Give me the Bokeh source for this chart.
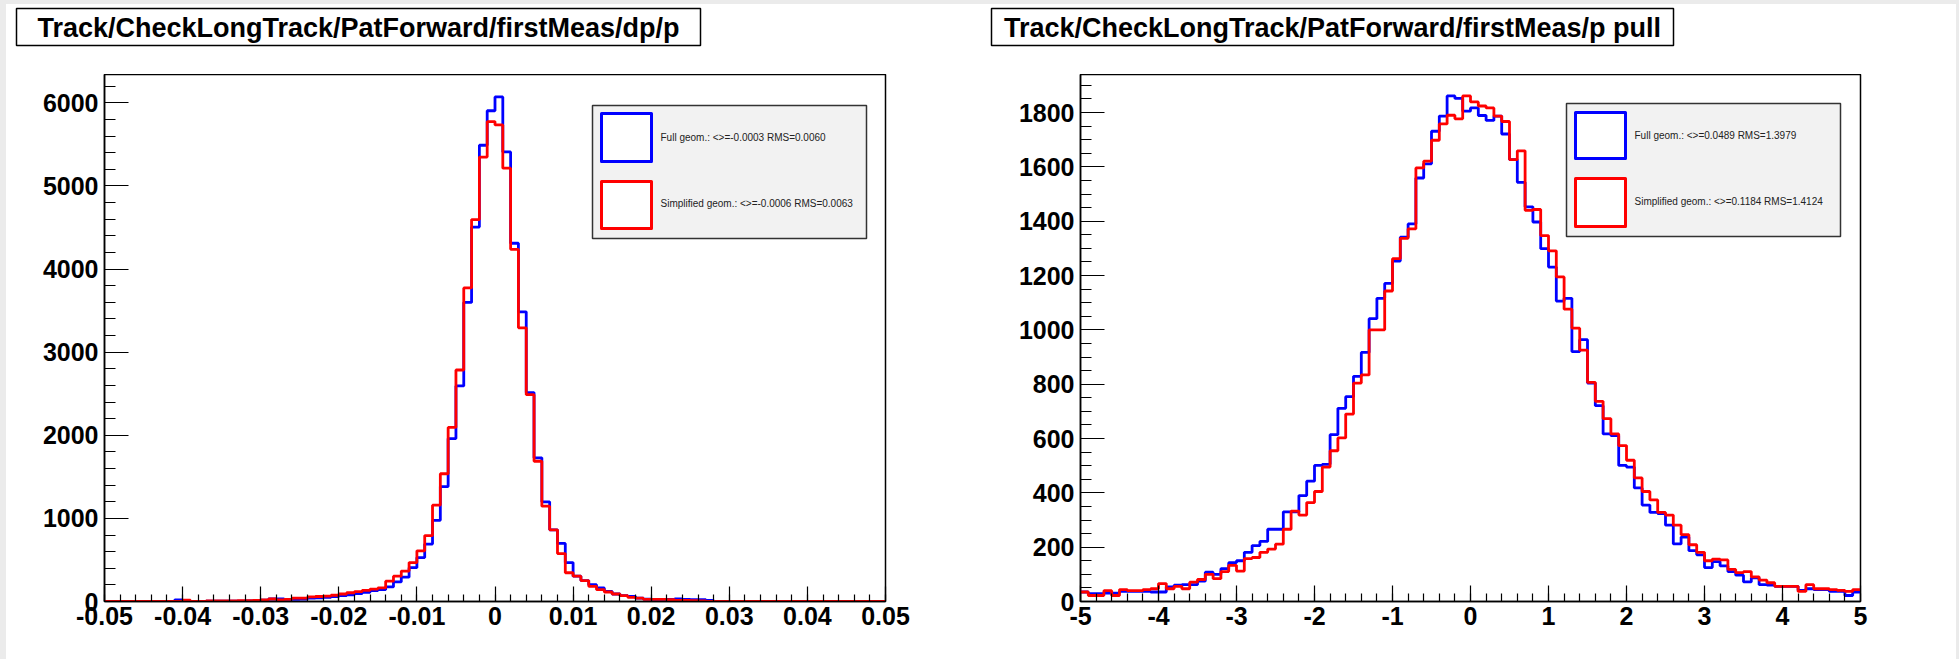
from bokeh.plotting import figure
from bokeh.layouts import row, column
from bokeh.models import Range1d, FixedTicker, Label, Spacer
from bokeh.core.properties import value
from bokeh.embed import file_html
from bokeh.resources import INLINE

# ---------------- data ----------------
TITLES = ["Track/CheckLongTrack/PatForward/firstMeas/dp/p",
          "Track/CheckLongTrack/PatForward/firstMeas/p pull"]

DP_RANGE = (-0.05, 0.05)
DP_NBINS = 100
DP_FULL = [0, 0, 0, 0, 0, 0, 0, 0, 0, 20, 5, 0, 0, 5, 5, 5, 5, 5, 8, 10,
           15, 30, 30, 25, 25, 30, 40, 45, 50, 60, 70, 80, 95, 110, 130,
           142, 175, 236, 293, 407, 529, 691, 976, 1382, 1960, 2594, 3598, 4505, 5489, 5904,
           6070, 5408, 4310, 3485, 2513, 1728, 1199, 862, 699, 468, 305, 252, 203, 163, 122,
           90, 70, 60, 40, 28, 25, 25, 25, 30, 25, 22, 22, 12,
           0, 0, 0, 0, 0, 0, 0, 0, 0, 0, 0, 0, 0, 0, 0, 0, 0, 0, 0, 0, 0, 0]
DP_SIMP = [0, 0, 0, 0, 0, 0, 0, 0, 0, 0, 15, 0, 0, 8, 8, 8, 8, 10, 10, 12,
           20, 30, 20, 25, 40, 40, 55, 60, 65, 75, 90, 105, 120, 135, 150,
           163, 244, 305, 366, 468, 610, 793, 1159, 1537, 2094, 2785, 3773, 4595, 5347, 5774,
           5733, 5213, 4237, 3293, 2488, 1687, 1147, 862, 577, 346, 305, 252, 183, 142, 114,
           90, 70, 50, 40, 25, 25, 25, 22, 12, 12, 10, 8,
           0, 0, 0, 0, 0, 0, 0, 0, 0, 0, 0, 0, 0, 0, 0, 0, 0, 0, 0, 0, 0, 0, 0]
DP_XTICKS = [-0.05, -0.04, -0.03, -0.02, -0.01, 0.0, 0.01, 0.02, 0.03, 0.04, 0.05]
DP_XLABELS = ["-0.05", "-0.04", "-0.03", "-0.02", "-0.01", "0", "0.01", "0.02", "0.03", "0.04", "0.05"]
DP_YTICKS = [0, 1000, 2000, 3000, 4000, 5000, 6000]
DP_YLABELS = ["0", "1000", "2000", "3000", "4000", "5000", "6000"]
DP_LEGEND = ["Full geom.: <>=-0.0003 RMS=0.0060", "Simplified geom.: <>=-0.0006 RMS=0.0063"]

PULL_RANGE = (-5.0, 5.0)
PULL_NBINS = 100
PULL_FULL = [35, 29, 29, 31, 31, 37, 37, 37, 37, 35, 35, 54, 60, 62, 62, 75, 108, 100, 121, 143,
             150, 181, 206, 221, 266, 266, 330, 330, 390, 443, 501, 505, 614, 711, 754, 829, 917, 1041, 1116, 1171,
             1253, 1341, 1390, 1559, 1611, 1731, 1787, 1861, 1852, 1805,
             1817, 1789, 1771, 1787, 1721, 1627, 1543, 1453, 1397, 1299, 1231, 1106, 1116, 920, 964, 804, 721, 617, 611, 501,
             495, 418, 355, 328, 324, 281, 212, 237, 187, 172, 125, 147, 131, 110, 97, 72, 87, 62, 60, 56,
             56, 56, 41, 47, 44, 44, 37, 37, 22, 35]
PULL_SIMP = [35, 22, 22, 40, 22, 44, 40, 40, 44, 47, 66, 47, 56, 47, 71, 81, 100, 84, 110, 133,
             112, 158, 162, 181, 193, 211, 266, 333, 318, 364, 405, 495, 555, 602, 690, 804, 834, 1000, 1000, 1143,
             1262, 1337, 1372, 1596, 1621, 1698, 1758, 1790, 1777, 1861,
             1839, 1824, 1817, 1787, 1767, 1627, 1659, 1440, 1443, 1347, 1291, 1195, 1076, 1006, 925, 807, 737, 673, 617, 574,
             520, 455, 405, 374, 328, 318, 281, 246, 209, 181, 150, 156, 153, 118, 106, 110, 91, 79, 69, 56,
             56, 56, 37, 62, 47, 47, 44, 41, 37, 44]
PULL_XTICKS = [-5, -4, -3, -2, -1, 0, 1, 2, 3, 4, 5]
PULL_XLABELS = ["-5", "-4", "-3", "-2", "-1", "0", "1", "2", "3", "4", "5"]
PULL_YTICKS = [0, 200, 400, 600, 800, 1000, 1200, 1400, 1600, 1800]
PULL_YLABELS = ["0", "200", "400", "600", "800", "1000", "1200", "1400", "1600", "1800"]
PULL_LEGEND = ["Full geom.: <>=0.0489 RMS=1.3979", "Simplified geom.: <>=0.1184 RMS=1.4124"]

# ---------------- layout constants (pixels) ----------------
FONT = "Liberation Sans"
PAGE_TOP = 4
PAGE_LEFT = 6
TITLE_H = 70          # height of the title strip above the plots
FRAME_H = 527
BOTTOM_B = 58
TOTAL_W = 1950


class Panel:
    def __init__(self, page_x0, left_b, frame_w, right_b, xr, ymax):
        self.page_x0 = page_x0
        self.left_b = left_b
        self.frame_w = frame_w
        self.right_b = right_b
        self.width = left_b + frame_w + right_b
        self.xr = xr
        self.ymax = ymax
        self.fx0 = page_x0 + left_b
        self.fy0 = PAGE_TOP + TITLE_H

    def dx(self, px):
        return self.xr[0] + (px - self.fx0) / self.frame_w * (self.xr[1] - self.xr[0])

    def dy(self, py):
        return (self.fy0 + FRAME_H - py) / FRAME_H * self.ymax


def hist_xy(vals, rng, nbins):
    lo, hi = rng
    edges = [lo + (hi - lo) * i / nbins for i in range(nbins + 1)]
    return edges, list(vals) + [vals[-1]]


def make_titles(titles, boxes):
    t = figure(frame_width=TOTAL_W, frame_height=TITLE_H,
               min_border_left=0, min_border_right=0, min_border_top=0, min_border_bottom=0,
               x_range=Range1d(PAGE_LEFT, PAGE_LEFT + TOTAL_W),
               y_range=Range1d(PAGE_TOP + TITLE_H, PAGE_TOP),
               x_axis_type=None, y_axis_type=None,
               output_backend="svg", toolbar_location=None, tools="")
    t.grid.visible = False
    t.outline_line_color = None
    t.background_fill_color = "white"
    t.border_fill_color = "white"
    for title, (x0, y0, x1, y1) in zip(titles, boxes):
        t.quad(left=[x0], right=[x1], top=[y0], bottom=[y1],
               fill_color="white", line_color="black", line_width=1.5)
        t.text(x=[(x0 + x1) / 2], y=[(y0 + y1) / 2 + 1], text=[title],
               text_font=value(FONT), text_font_style="bold", text_font_size="27px",
               text_color="black", text_align="center", text_baseline="middle")
    return t


def make_panel(geo, full, simp, rng, nbins,
               xticks, xlabels, xminor, yticks, ylabels, yminor,
               xmaj_len, xmin_len, legend_texts, leg):
    p = figure(frame_width=geo.frame_w, frame_height=FRAME_H,
               min_border_left=geo.left_b, min_border_right=geo.right_b,
               min_border_top=0, min_border_bottom=BOTTOM_B,
               x_range=Range1d(*geo.xr), y_range=Range1d(0, geo.ymax),
               output_backend="svg", toolbar_location=None, tools="")
    p.grid.visible = False
    p.outline_line_color = "black"
    p.outline_line_width = 1.5
    p.border_fill_color = "white"
    p.background_fill_color = "white"

    xa = p.xaxis[0]
    ya = p.yaxis[0]
    xa.ticker = FixedTicker(ticks=xticks, minor_ticks=xminor)
    ya.ticker = FixedTicker(ticks=yticks, minor_ticks=yminor)
    xa.major_label_overrides = dict(zip(xticks, xlabels))
    ya.major_label_overrides = dict(zip(yticks, ylabels))
    for ax in (xa, ya):
        ax.major_tick_out = 0
        ax.minor_tick_out = 0
        ax.axis_line_width = 1.5
        ax.axis_line_color = "black"
        ax.major_tick_line_color = "black"
        ax.minor_tick_line_color = "black"
        ax.major_tick_line_width = 1.2
        ax.minor_tick_line_width = 1.2
        ax.major_label_text_font = FONT
        ax.major_label_text_font_style = "bold"
        ax.major_label_text_font_size = "25px"
        ax.major_label_text_color = "black"
    xa.major_tick_in = xmaj_len
    xa.minor_tick_in = xmin_len
    ya.major_tick_in = 24
    ya.minor_tick_in = 11
    xa.major_label_standoff = 5
    ya.major_label_standoff = 6

    xs, ys = hist_xy(full, rng, nbins)
    p.step(x=xs, y=ys, mode="after", line_color="#0000ff", line_width=2.8)
    xs, ys = hist_xy(simp, rng, nbins)
    p.step(x=xs, y=ys, mode="after", line_color="#ff0000", line_width=2.8)

    # legend
    lx0, ly0, lx1, ly1 = leg["box"]
    p.quad(left=[geo.dx(lx0)], right=[geo.dx(lx1)], top=[geo.dy(ly0)], bottom=[geo.dy(ly1)],
           fill_color="#f2f2f2", line_color="#333333", line_width=1.5)
    for (bx0, by0, bx1, by1), col, (tx, ty), txt in zip(leg["marks"], ["#0000ff", "#ff0000"],
                                                        leg["texts"], legend_texts):
        p.quad(left=[geo.dx(bx0)], right=[geo.dx(bx1)], top=[geo.dy(by0)], bottom=[geo.dy(by1)],
               fill_color="white", line_color=col, line_width=3, line_join="round")
        p.add_layout(Label(x=geo.dx(tx), y=geo.dy(ty), text=txt, text_font=FONT,
                           text_font_size="10px", text_color="#222222",
                           text_baseline="middle", text_align="left"))
    return p


geo1 = Panel(PAGE_LEFT, 98, 781, 95, DP_RANGE, 6340)
geo2 = Panel(PAGE_LEFT + 974, 100, 780, 96, PULL_RANGE, 1940)

dp_xminor = [round(-0.05 + 0.002 * i, 4) for i in range(51)]
dp_yminor = [200 * i for i in range(32)]
pull_xminor = [round(-5 + 0.2 * i, 3) for i in range(51)]
pull_yminor = [50 * i for i in range(39)]

titles = make_titles(TITLES, [(16, 8, 700, 45), (991, 8, 1673, 45)])

p1 = make_panel(geo1, DP_FULL, DP_SIMP, DP_RANGE, DP_NBINS,
                DP_XTICKS, DP_XLABELS, dp_xminor, DP_YTICKS, DP_YLABELS, dp_yminor,
                15, 7, DP_LEGEND,
                {"box": (592, 105, 866, 238),
                 "marks": [(601, 113, 651, 161), (601, 181, 651, 228)],
                 "texts": [(660, 137), (660, 203)]})

p2 = make_panel(geo2, PULL_FULL, PULL_SIMP, PULL_RANGE, PULL_NBINS,
                PULL_XTICKS, PULL_XLABELS, pull_xminor, PULL_YTICKS, PULL_YLABELS, pull_yminor,
                16, 8, PULL_LEGEND,
                {"box": (1566, 103, 1840, 236),
                 "marks": [(1575, 112, 1625, 158), (1575, 178, 1625, 226)],
                 "texts": [(1634, 135), (1634, 201)]})

plots = row(p1, p2, spacing=0, styles={"background-color": "white"})
panels = column(titles, plots, spacing=0, styles={"background-color": "white"})
layout = column(Spacer(width=1959, height=PAGE_TOP),
                row(Spacer(width=PAGE_LEFT, height=655), panels, Spacer(width=3, height=655), spacing=0),
                spacing=0,
                styles={"background-color": "#ebebeb"})

open("out.html", "w").write(file_html(layout, INLINE))
